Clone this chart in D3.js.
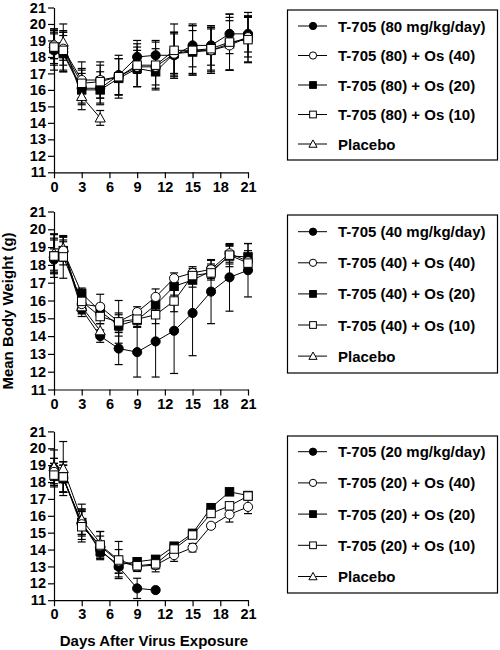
<!DOCTYPE html>
<html>
<head>
<meta charset="utf-8">
<script src="https://cdn.jsdelivr.net/npm/d3@7"></script>
<style>
  html, body { margin: 0; padding: 0; background: #fff; }
  svg { display: block; font-family: "Liberation Sans", Arial, Helvetica, sans-serif; font-weight: bold; }
</style>
</head>
<body>
<svg id="chart" width="500" height="650"></svg>
<script>
// ---------- DATA ----------
const days = [0, 1, 3, 5, 7, 9, 11, 13, 15, 17, 19, 21];
const xTicks = [0, 3, 6, 9, 12, 15, 18, 21];
const yTicks = [11, 12, 13, 14, 15, 16, 17, 18, 19, 20, 21];

// Top panel: T-705 80 mg/kg/day
const top_t705   = [18.4, 18.3, 16.1, 16.1, 16.9, 18.0, 18.1, 18.1, 18.7, 18.7, 19.4, 19.4];
const top_os40   = [18.7, 18.5, 16.6, 16.6, 16.8, 17.4, 17.4, 18.2, 18.4, 18.4, 18.7, 19.2];
const top_os20   = [18.5, 18.2, 16.0, 16.0, 16.7, 17.3, 17.1, 18.2, 18.3, 18.4, 18.8, 19.2];
const top_os10   = [18.6, 18.4, 16.4, 16.5, 16.8, 17.5, 17.5, 18.4, 18.4, 18.5, 18.9, 19.05];
const top_plac   = [18.8, 18.9, 15.6, 14.3];
const top_t705_sd = [1.2, 1.2, 0.9, 1.0, 1.2, 1.0, 0.9, 1.4, 1.3, 1.2, 1.2, 1.1];
const top_os40_sd = [0.8, 1.0, 1.1, 1.1, 1.1, 1.2, 1.1, 1.3, 1.5, 1.4, 1.5, 1.2];
const top_os20_sd = [0.9, 1.1, 1.2, 0.8, 1.2, 1.1, 1.1, 1.2, 1.3, 1.3, 1.6, 1.5];
const top_os10_sd = [1.1, 1.2, 0.9, 1.0, 1.1, 1.3, 1.4, 1.6, 1.5, 1.3, 1.7, 1.4];
const top_plac_sd = [0.9, 1.1, 0.5, 0.45];
const top_labels = ["T-705 (80 mg/kg/day)", "T-705 (80) + Os (40)", "T-705 (80) + Os (20)", "T-705 (80) + Os (10)", "Placebo"];

// Middle panel: T-705 40 mg/kg/day
const mid_t705   = [18.3, 18.8, 15.5, 14.0, 13.3, 13.1, 13.7, 14.3, 15.3, 16.5, 17.3, 17.7];
const mid_os40   = [18.5, 18.8, 15.8, 15.65, 14.8, 15.35, 16.2, 17.25, 17.55, 17.75, 18.65, 18.2];
const mid_os20   = [18.5, 18.8, 16.4, 15.4, 14.6, 14.9, 15.75, 16.8, 17.15, 17.65, 18.5, 18.45];
const mid_os10   = [18.5, 18.45, 15.95, 15.1, 14.8, 14.95, 15.2, 15.97, 17.4, 17.55, 18.55, 18.1];
const mid_plac   = [18.65, 18.95, 15.65, 14.3];
const mid_t705_sd = [0.6, 0.6, 0.4, 0.35, 0.9, 1.4, 2.0, 2.4, 2.4, 1.8, 1.9, 1.5];
const mid_os40_sd = [1.2, 0.8, 0.5, 0.7, 1.2, 0.3, 0.45, 0.3, 0.35, 0.5, 0.5, 0.6];
const mid_os20_sd = [0.9, 0.5, 0.3, 0.4, 0.6, 0.4, 0.5, 0.5, 0.4, 0.4, 0.6, 0.75];
const mid_os10_sd = [1.0, 1.2, 0.5, 0.4, 0.5, 0.4, 0.5, 0.6, 0.4, 0.4, 0.5, 0.5];
const mid_plac_sd = [1.1, 0.6, 0.4, 0.4];
const mid_labels = ["T-705 (40 mg/kg/day)", "T-705 (40) + Os (40)", "T-705 (40) + Os (20)", "T-705 (40) + Os (10)", "Placebo"];

// Bottom panel: T-705 20 mg/kg/day
const bot_t705   = [18.8, 18.2, 15.6, 14.0, 12.98, 11.7, 11.6];
const bot_os40   = [18.6, 18.3, 15.5, 14.2, 13.3, 13.0, 13.08, 13.67, 14.11, 15.41, 16.08, 16.53];
const bot_os20   = [18.6, 18.2, 15.6, 13.9, 13.1, 13.28, 13.42, 14.2, 14.96, 16.48, 17.42, 17.2];
const bot_os10   = [18.41, 18.3, 15.35, 14.27, 13.38, 13.04, 13.15, 14.03, 14.86, 16.14, 16.59, 17.17];
const bot_plac   = [18.9, 18.8, 15.79, 14.37];
const bot_t705_sd = [0.6, 0.8, 0.8, 0.5, 0.6, 0.6, 0];
const bot_os40_sd = [0.8, 0.9, 0.9, 0.6, 0.7, 0.3, 0.4, 0.37, 0.25, 0.15, 0.45, 0.4];
const bot_os20_sd = [0.5, 0.8, 0.7, 0.5, 0.5, 0.2, 0.2, 0.15, 0.15, 0.15, 0.15, 0.15];
const bot_os10_sd = [0.7, 0.9, 0.9, 0.8, 1.1, 0.3, 0.3, 0.2, 0.2, 0.2, 0.2, 0.2];
const bot_plac_sd = [1.0, 1.6, 0.9, 0.7];
const bot_labels = ["T-705 (20 mg/kg/day)", "T-705 (20) + Os (40)", "T-705 (20) + Os (20)", "T-705 (20) + Os (10)", "Placebo"];

const markerTypes = ["filledCircle", "openCircle", "filledSquare", "openSquare", "openTriangle"];

// ---------- LAYOUT ----------
const panels = [
  { top: 7.5, bottom: 172.3, values: [top_t705, top_os40, top_os20, top_os10, top_plac],
    sds: [top_t705_sd, top_os40_sd, top_os20_sd, top_os10_sd, top_plac_sd], labels: top_labels,
    legend: { y: 10, h: 150, first: 26, step: 29.5 } },
  { top: 211.5, bottom: 389.5, values: [mid_t705, mid_os40, mid_os20, mid_os10, mid_plac],
    sds: [mid_t705_sd, mid_os40_sd, mid_os20_sd, mid_os10_sd, mid_plac_sd], labels: mid_labels,
    legend: { y: 215, h: 158, first: 231.7, step: 31.1 } },
  { top: 431.4, bottom: 600.2, values: [bot_t705, bot_os40, bot_os20, bot_os10, bot_plac],
    sds: [bot_t705_sd, bot_os40_sd, bot_os20_sd, bot_os10_sd, bot_plac_sd], labels: bot_labels,
    legend: { y: 436, h: 157, first: 451.7, step: 31.2 } }
];

const svg = d3.select("#chart");
const x = d3.scaleLinear().domain([0, 21]).range([54, 248]);

function drawMarker(g, type, cx, cy, s) {
  const filled = type.startsWith("filled");
  const fill = filled ? "#000" : "#fff";
  if (type.endsWith("Circle")) {
    g.append("circle").attr("cx", cx).attr("cy", cy).attr("r", s * 0.52)
      .attr("fill", fill).attr("stroke", "#000").attr("stroke-width", 1);
  } else if (type.endsWith("Square")) {
    const h = s * 0.48;
    g.append("rect").attr("x", cx - h).attr("y", cy - h).attr("width", 2 * h).attr("height", 2 * h)
      .attr("fill", fill).attr("stroke", "#000").attr("stroke-width", 1);
  } else {
    const h = s * 0.58;
    g.append("path")
      .attr("d", `M${cx},${cy - h}L${cx + h},${cy + h * 0.8}L${cx - h},${cy + h * 0.8}Z`)
      .attr("fill", fill).attr("stroke", "#000").attr("stroke-width", 1);
  }
}

panels.forEach(p => {
  const y = d3.scaleLinear().domain([11, 21]).range([p.bottom, p.top]);
  const g = svg.append("g");

  // axes
  const yAxis = d3.axisLeft(y).tickValues(yTicks).tickSize(6).tickPadding(2).tickSizeOuter(0);
  const ga = g.append("g").attr("transform", `translate(${x(0)},0)`).call(yAxis);
  const xAxis = d3.axisBottom(x).tickValues(xTicks).tickSize(6).tickPadding(3).tickSizeOuter(0);
  const gx = g.append("g").attr("transform", `translate(0,${y(11)})`).call(xAxis);
  [ga, gx].forEach(a => {
    a.selectAll("path.domain").attr("stroke", "#000").attr("stroke-width", 1.2);
    a.selectAll(".tick line").attr("stroke", "#000").attr("stroke-width", 1.2);
    a.selectAll(".tick text").attr("fill", "#000")
      .style("font-family", "'Liberation Sans', Arial, sans-serif")
      .style("font-weight", "bold").style("font-size", "14.5px");
  });

  // error bars
  const eg = g.append("g");
  p.values.forEach((vals, si) => {
    vals.forEach((v, i) => {
      const sd = p.sds[si][i];
      if (!sd) return;
      const cx = x(days[i]);
      const y1 = y(v + sd), y2 = y(v - sd);
      eg.append("line").attr("x1", cx).attr("x2", cx).attr("y1", y1).attr("y2", y2)
        .attr("stroke", "#000").attr("stroke-width", 1);
      [y1, y2].forEach(yy => eg.append("line").attr("x1", cx - 4).attr("x2", cx + 4)
        .attr("y1", yy).attr("y2", yy).attr("stroke", "#000").attr("stroke-width", 1.2));
    });
  });

  // lines
  const line = d3.line().x((d, i) => x(days[i])).y(d => y(d));
  p.values.forEach(vals => {
    g.append("path").attr("d", line(vals)).attr("fill", "none")
      .attr("stroke", "#000").attr("stroke-width", 1);
  });

  // markers
  const order = [0, 2, 4, 1, 3];
  order.forEach(si => {
    p.values[si].forEach((v, i) => drawMarker(g, markerTypes[si], x(days[i]), y(v), 8.8));
  });

  // legend
  const L = p.legend;
  const lg = svg.append("g");
  lg.append("rect").attr("x", 287.5).attr("y", L.y).attr("width", 210).attr("height", L.h)
    .attr("fill", "#fff").attr("stroke", "#000").attr("stroke-width", 1.2);
  p.labels.forEach((lab, i) => {
    const cy = L.first + i * L.step;
    lg.append("line").attr("x1", 298).attr("x2", 327).attr("y1", cy).attr("y2", cy)
      .attr("stroke", "#000").attr("stroke-width", 1);
    drawMarker(lg, markerTypes[i], 313, cy, 7);
    lg.append("text").attr("x", 338).attr("y", cy + 5.5).text(lab)
      .attr("font-size", "15px").attr("fill", "#000");
  });
});

// axis titles
svg.append("text").attr("transform", "translate(13,311) rotate(-90)")
  .attr("text-anchor", "middle").attr("font-size", "15px").text("Mean Body Weight (g)");
svg.append("text").attr("x", 154).attr("y", 646)
  .attr("text-anchor", "middle").attr("font-size", "15px").text("Days After Virus Exposure");
</script>
</body>
</html>
